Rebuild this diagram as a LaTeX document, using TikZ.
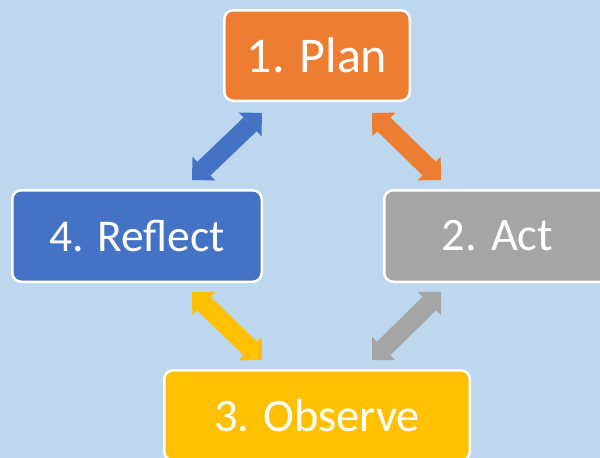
\documentclass[tikz,border=0pt]{standalone}
\usepackage{fontspec}
\setmainfont{Carlito}
\usetikzlibrary{arrows.meta,calc}
\definecolor{bgc}{HTML}{BDD7EE}
\definecolor{cplan}{HTML}{ED7D31}
\definecolor{cact}{HTML}{A5A5A5}
\definecolor{cref}{HTML}{4472C4}
\definecolor{cobs}{HTML}{FFC000}
\begin{document}
\begin{tikzpicture}[x=1pt,y=-1pt,
  box/.style={draw=white, line width=2.5pt, rounded corners=9pt, text=white, inner sep=0pt},
  dbl/.style={line width=19pt,
    {Triangle[width=33pt,length=16.5pt,line width=0pt]}-{Triangle[width=33pt,length=16.5pt,line width=0pt]}}]
\useasboundingbox (0,0) rectangle (600,458);
\clip (0,0) rectangle (600,458);
\fill[bgc] (0,0) rectangle (600,458);
\node[box, fill=cplan, minimum width=185.5pt, minimum height=90.5pt, font=\fontsize{50}{50}\selectfont] (plan) at (317,55.5) {1. Plan};
\node[box, fill=cact, minimum width=226.5pt, minimum height=91.5pt, font=\fontsize{46.5}{46.5}\selectfont] (act) at (497.5,236) {2. Act};
\node[box, fill=cref, minimum width=249.5pt, minimum height=91.5pt, font=\fontsize{45.5}{45.5}\selectfont] (reflect) at (137,236) {4. Reflect};
\node[box, fill=cobs, minimum width=305.5pt, minimum height=90.5pt, font=\fontsize{46.5}{46.5}\selectfont] (observe) at (317,415.5) {3. Observe};
\coordinate (b1) at ($(plan.south)+(-55,11)$);
\coordinate (b2) at ($(reflect.north)+(55,-9)$);
\coordinate (o1) at ($(plan.south)+(55,11)$);
\coordinate (o2) at ($(act.north)+(-56.5,-9)$);
\coordinate (y1) at ($(reflect.south)+(55,9)$);
\coordinate (y2) at ($(observe.north)+(-55,-9)$);
\coordinate (g1) at ($(act.south)+(-56.5,9)$);
\coordinate (g2) at ($(observe.north)+(55,-9)$);
\draw[dbl, cref] (b1) -- (b2);
\draw[dbl, cplan] (o1) -- (o2);
\draw[dbl, cobs] (y1) -- (y2);
\draw[dbl, cact] (g1) -- (g2);
\end{tikzpicture}
\end{document}
